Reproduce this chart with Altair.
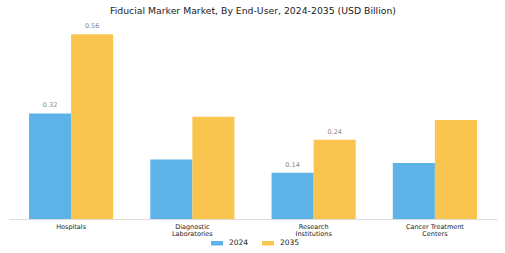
import altair as alt
import pandas as pd

categories = ["Hospitals", "Diagnostic\nLaboratories", "Research\nInstitutions", "Cancer Treatment\nCenters"]
years = ["2024", "2035"]
values_2024 = [0.32, 0.18, 0.14, 0.17]
values_2035 = [0.56, 0.31, 0.24, 0.30]
show_label_2024 = [True, False, True, False]
show_label_2035 = [True, False, True, False]

rows = []
for i, c in enumerate(categories):
    rows.append({"cat": c, "year": "2024", "value": values_2024[i], "show": show_label_2024[i]})
    rows.append({"cat": c, "year": "2035", "value": values_2035[i], "show": show_label_2035[i]})
df = pd.DataFrame(rows)

x = alt.X("cat:N", sort=categories, title=None,
          scale=alt.Scale(paddingInner=0.306, paddingOuter=0.165),
          axis=alt.Axis(labelExpr="split(datum.label, '\\n')", labelAngle=0,
                        labelFontSize=6.5, labelColor="#222", labelFont="DejaVu Sans",
                        domainColor="#ddd", ticks=False, labelPadding=4, labelLineHeight=7.5))
y = alt.Y("value:Q", scale=alt.Scale(domain=[0, 0.6]), axis=None)
color = alt.Color("year:N", sort=years,
                  scale=alt.Scale(domain=years, range=["#5DB3E8", "#F9C54E"]),
                  legend=alt.Legend(title=None, orient="none", direction="horizontal",
                                    legendX=202, legendY=216,
                                    symbolType="M-1,-0.375H1V0.375H-1Z", symbolSize=144,
                                    labelFontSize=7.5, labelFont="DejaVu Sans", labelColor="#222",
                                    labelOffset=6, columnPadding=13,
                                    symbolStrokeWidth=0, symbolOpacity=1))

bars = alt.Chart(df).mark_bar().encode(
    x=x, y=y, color=color, xOffset=alt.XOffset("year:N", sort=years)
)
labels = alt.Chart(df).transform_filter("datum.show").mark_text(
    dy=-8, fontSize=6.5, color="#888", font="DejaVu Sans"
).encode(
    x=alt.X("cat:N", sort=categories), y="value:Q", xOffset=alt.XOffset("year:N", sort=years),
    text=alt.Text("value:Q", format=".2f")
)

chart = (bars + labels).properties(
    width=488, height=198,
    autosize=alt.AutoSizeParams(type="none"),
    padding={"left": 9, "top": 21, "right": 8, "bottom": 34},
    title=alt.Title("Fiducial Marker Market, By End-User, 2024-2035 (USD Billion)",
                    fontSize=9.3, font="DejaVu Sans", fontWeight="normal", color="#222",
                    anchor="middle", offset=5)
).configure_view(stroke=None)

chart.save("out.html", embed_options={"renderer": "svg", "actions": False})
